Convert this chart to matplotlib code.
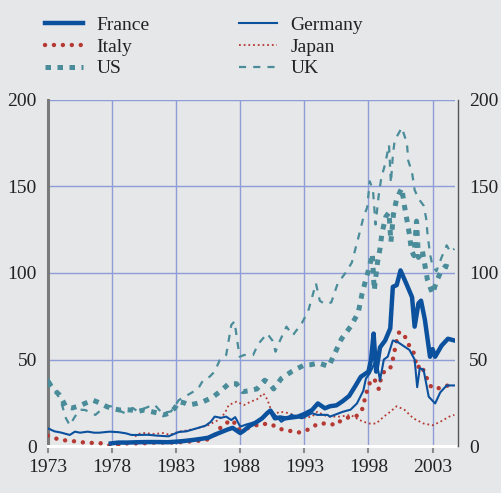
import numpy as np
import matplotlib
matplotlib.use("Agg")
import matplotlib.pyplot as plt

plt.rcParams['font.family'] = ['Liberation Serif', 'DejaVu Serif']

# --- data (index values) ---
fr_t = [1977.9, 1978.5, 1979.2, 1980.0, 1980.8, 1981.5, 1982.3, 1983.0, 1983.6, 1984.3,
        1985.0, 1985.5, 1986.0, 1986.5, 1987.0, 1987.4, 1987.7, 1988.0, 1988.3, 1988.7,
        1989.2, 1989.7, 1990.1, 1990.35, 1990.7, 1991.1, 1991.5, 1992.0, 1992.5, 1993.0,
        1993.6, 1994.05, 1994.6, 1995.0, 1995.5, 1996.0, 1996.5, 1997.0, 1997.4, 1997.8,
        1998.0, 1998.2, 1998.4, 1998.6, 1998.9, 1999.3, 1999.7, 1999.9, 2000.2, 2000.5,
        2001.0, 2001.4, 2001.6, 2001.9, 2002.1, 2002.4, 2002.8, 2003.0, 2003.2, 2003.7,
        2004.2, 2004.7]
fr_v = [1.5, 2, 2, 2.2, 2.3, 2.3, 2.2, 2.5, 2.9, 3.5,
        4.2, 4.8, 6.5, 8, 9.5, 10.5, 9, 7.5, 9, 11.5,
        13.5, 16, 19, 20.5, 16, 16.5, 16, 16.5, 17, 18.5,
        20.8, 24.6, 21.8, 23, 23.5, 26, 29, 35, 40, 42,
        43, 50, 65, 43, 57, 61, 68, 92, 93, 101.5,
        93, 86, 69, 82.5, 84, 73, 51.6, 56, 51.6, 58,
        62, 61]

de_t = [1973.0, 1973.5, 1974.0, 1974.7, 1975.1, 1975.5, 1976.1, 1976.6, 1977.0, 1977.8,
        1978.5, 1979.1, 1979.5, 1980.0, 1980.8, 1981.5, 1982.4, 1983.2, 1983.8, 1984.5,
        1985.3, 1985.7, 1986.0, 1986.5, 1986.9, 1987.3, 1987.6, 1988.0, 1988.5, 1989.0,
        1989.4, 1990.0, 1990.4, 1990.7, 1991.2, 1991.6, 1992.0, 1992.8, 1993.6, 1994.0,
        1994.8, 1995.0, 1996.0, 1996.6, 1997.1, 1997.6, 1997.8, 1998.1, 1998.6, 1998.9,
        1999.2, 1999.5, 1999.9, 2000.3, 2000.7, 2001.2, 2001.6, 2001.8, 2002.0, 2002.3,
        2002.7, 2003.2, 2003.6, 2004.1, 2004.7]
de_v = [10.2, 8.5, 7.8, 6.4, 8.3, 7.7, 8.3, 7.7, 7.7, 8.3,
        8.0, 7.3, 6.4, 6.4, 6.5, 6.0, 5.6, 8.1, 8.5, 10,
        11.8, 14, 17, 16.3, 17, 15, 16.7, 11.2, 12.5, 13.5,
        14, 18, 20.8, 18, 14, 16, 18, 16, 19, 18,
        18, 17, 19.8, 21, 24.6, 32, 39, 42, 50, 38,
        50, 51.6, 61, 60, 58, 55.5, 50, 34, 45, 44,
        28.5, 24.6, 31, 35, 35]

it_t = [1973.0, 1973.3, 1973.8, 1974.6, 1975.3, 1976.0, 1976.7, 1977.3, 1977.8, 1978.5,
        1979.1, 1979.7, 1980.3, 1981.0, 1981.4, 1982.0, 1982.7, 1983.3, 1984.0, 1984.7,
        1985.3, 1985.7, 1986.0, 1986.5, 1986.9, 1987.2, 1987.5, 1987.8, 1988.4, 1988.9,
        1989.6, 1990.0, 1990.4, 1991.0, 1991.9, 1992.5, 1993.2, 1994.1, 1995.0, 1995.4,
        1995.9, 1996.6, 1997.1, 1997.5, 1997.8, 1998.0, 1998.3, 1998.5, 1998.8, 1999.0,
        1999.3, 1999.7, 1999.9, 2000.2, 2000.4, 2000.8, 2001.1, 2001.5, 2001.8, 2002.1,
        2002.5, 2002.9, 2003.3, 2003.7, 2004.2, 2004.7]
it_v = [6, 5.4, 3.8, 3.0, 2.6, 1.8, 1.8, 1.5, 0.4, 0.4,
        1.5, 1.5, 1.5, 1.8, 2, 2, 2, 2.2, 2.6, 3,
        3.5, 4.5, 6.4, 11, 13, 15, 14, 9.6, 10, 11,
        13, 12.7, 12.7, 10, 8.7, 7.7, 9.2, 13, 13, 12,
        15, 17, 17.5, 21, 29.5, 35, 39, 38, 33, 40,
        44, 45, 50, 61, 66, 64, 59, 54.5, 45, 47,
        40, 34, 33, 34, 35, 37]

jp_t = [1979.8, 1980.0, 1980.5, 1981.3, 1982.0, 1982.5, 1983.2, 1983.8, 1984.5, 1985.0,
        1985.5, 1986.0, 1986.3, 1986.8, 1987.1, 1987.7, 1988.3, 1988.8, 1989.3, 1989.8,
        1990.1, 1990.3, 1990.5, 1991.1, 1991.8, 1992.8, 1993.6, 1994.0, 1994.8, 1995.8,
        1996.6, 1997.3, 1998.0, 1998.6, 1999.2, 1999.7, 2000.2, 2000.8, 2001.5, 2002.3,
        2003.0, 2003.6, 2004.3, 2004.7]
jp_v = [5.4, 7, 7.5, 7, 7.5, 6.5, 8.3, 9, 10, 11,
        12, 14, 15, 19, 23.7, 25.6, 23.7, 25.6, 27, 30.4,
        27, 23, 18, 19.8, 19, 16, 17, 19.8, 17, 17,
        18, 15, 13, 13, 17, 19.8, 23, 21, 16, 13,
        12, 14, 17, 18]

us_t = [1973.0, 1973.4, 1973.9, 1974.4, 1974.9, 1975.6, 1976.0, 1976.5, 1977.0, 1977.6,
        1978.1, 1978.6, 1979.0, 1979.5, 1980.0, 1980.5, 1981.0, 1981.6, 1982.0, 1982.5,
        1982.9, 1983.2, 1983.6, 1984.0, 1984.6, 1985.1, 1985.5, 1985.9, 1986.5, 1987.1,
        1987.7, 1988.2, 1988.7, 1989.3, 1989.9, 1990.3, 1990.6, 1991.2, 1991.6, 1992.0,
        1992.5, 1993.0, 1993.5, 1994.1, 1994.9, 1995.4, 1995.9, 1996.6, 1997.2, 1997.5,
        1997.75, 1998.05, 1998.3, 1998.45, 1998.7, 1998.9, 1999.05, 1999.35, 1999.6, 1999.75,
        1999.95, 2000.2, 2000.6, 2000.8, 2001.0, 2001.2, 2001.35, 2001.55, 2001.75, 2001.9,
        2002.2, 2002.4, 2002.6, 2002.8, 2003.0, 2003.3, 2003.6, 2004.0, 2004.4, 2004.7]
us_v = [37, 33, 29.5, 22.7, 22, 23.7, 25, 26.5, 25, 22.7,
        21.5, 20.8, 21, 20.8, 20, 20.8, 20, 19, 18, 19,
        22, 25.6, 25, 23.7, 24.6, 25.6, 27, 28.5, 32, 36,
        36, 31.4, 32, 33, 38, 36, 33, 39, 41, 43,
        45, 46.8, 47, 48, 46, 54, 62, 69, 77, 88,
        95, 103, 111, 90, 106, 114, 123, 132.5, 135, 118,
        134, 143, 149, 139, 130.6, 122, 113, 110, 130, 109,
        113, 104.6, 96, 92, 88, 95, 100, 104, 103, 104]

uk_t = [1973.0, 1973.5, 1974.0, 1974.4, 1974.7, 1975.1, 1975.5, 1975.9, 1976.7, 1977.4,
        1977.9, 1978.4, 1979.0, 1979.6, 1980.0, 1980.6, 1981.3, 1981.9, 1982.6, 1983.2,
        1983.9, 1984.7, 1985.1, 1985.6, 1986.0, 1986.4, 1986.9, 1987.3, 1987.55, 1987.8,
        1987.95, 1988.3, 1989.0, 1989.4, 1990.1, 1990.5, 1990.75, 1991.1, 1991.6, 1992.1,
        1992.8, 1993.3, 1993.9, 1994.2, 1994.6, 1995.1, 1995.6, 1996.2, 1996.7, 1997.3,
        1997.6, 1997.9, 1998.1, 1998.35, 1998.55, 1998.8, 1999.0, 1999.3, 1999.6, 1999.75,
        1999.9, 2000.05, 2000.3, 2000.6, 2001.0, 2001.1, 2001.4, 2001.6, 2001.9, 2002.3,
        2002.5, 2002.6, 2002.8, 2003.0, 2003.3, 2003.7, 2004.1, 2004.4, 2004.7]
uk_v = [39, 33, 26, 16, 12, 17, 21, 20.8, 18, 22.7,
        23, 21, 19, 22, 20, 22, 24, 19, 20, 26.5,
        29.5, 33, 38, 40, 43, 49.7, 52.6, 70, 72, 59,
        51.6, 52.6, 52.6, 59, 65, 61, 54.5, 61, 69, 64,
        71, 78, 94, 84, 82, 83, 94, 100, 106, 123,
        132, 138, 153, 148, 128, 145, 155, 163, 174, 152,
        168, 177, 180, 184, 175, 165, 158, 148, 143, 139,
        131.6, 123, 111, 104, 101, 109, 116, 112, 114]

year_ticks = [1973, 1978, 1983, 1988, 1993, 1998, 2003]
value_ticks = [0, 50, 100, 150, 200]

bg = '#E6E7E9'
blue = '#0B519E'
red = '#B53A33'
teal = '#4A8C99'
grid_c = '#8E9DD8'
txt = '#222222'

fig = plt.figure(figsize=(5.01, 4.93), dpi=100, facecolor=bg)
ax = fig.add_axes([0.0958, 0.0953, 0.8124, 0.7019])
ax.set_facecolor(bg)

ax.plot(uk_t, uk_v, color=teal, lw=1.6, ls=(0, (3.2, 3.2)), label='UK', zorder=3)
ax.plot(us_t, us_v, color=teal, lw=3.6, ls=(0, (1.1, 1.3)), label='US', zorder=3)
ax.plot(jp_t, jp_v, color=red, lw=1.3, ls=(0, (1, 1.6)), label='Japan', zorder=4)
ax.plot(it_t, it_v, color=red, lw=3.2, ls=(0, (0.01, 2.0)), dash_capstyle='round',
        label='Italy', zorder=4)
ax.plot(de_t, de_v, color=blue, lw=1.5, label='Germany', zorder=5)
ax.plot(fr_t, fr_v, color=blue, lw=3.2, label='France', zorder=5)

ax.set_xlim(1973, 2004.75)
ax.set_ylim(0, 200)
ax.set_xticks(year_ticks)
ax.set_yticks(value_ticks)
ax.set_xticklabels([str(y) for y in year_ticks], fontsize=14, color=txt)
ax.tick_params(axis='x', direction='out', length=5, width=1.5, color='#8A8A8A', pad=4)
ax.tick_params(axis='y', length=0, labelsize=14, labelcolor=txt, pad=8,
               right=False, labelright=True)

ax.grid(True, color=grid_c, lw=1.0, zorder=0)
ax.set_axisbelow(True)

ax.spines['top'].set_visible(False)
ax.spines['left'].set_color('#7A7A7A')
ax.spines['left'].set_linewidth(2.2)
ax.spines['right'].set_color('#555555')
ax.spines['right'].set_linewidth(1.0)
ax.spines['right'].set_position(('outward', 2))
ax.spines['bottom'].set_color('white')
ax.spines['bottom'].set_linewidth(2.2)

# legend in the order of the original: France/Italy/US | Germany/Japan/UK
h, l = ax.get_legend_handles_labels()
order = ['France', 'Italy', 'US', 'Germany', 'Japan', 'UK']
hd = dict(zip(l, h))
leg = fig.legend([hd[k] for k in order], order, loc='upper left',
                 bbox_to_anchor=(0.062, 0.995), ncol=2, frameon=False, fontsize=14,
                 handlelength=1.95, handletextpad=0.7, columnspacing=4.6,
                 labelspacing=0.22, borderaxespad=0.3)
for t in leg.get_texts():
    t.set_color(txt)

fig.savefig('out.png', dpi=100, facecolor=bg)
